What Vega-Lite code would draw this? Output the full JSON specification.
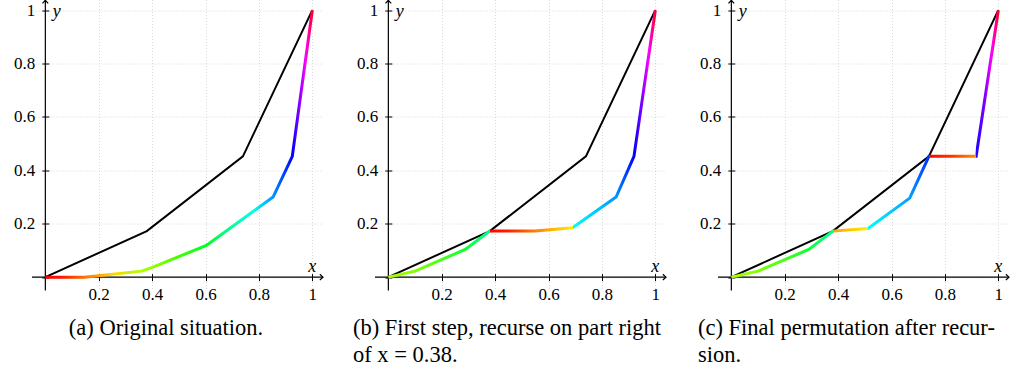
{
  "$schema": "https://vega.github.io/schema/vega-lite/v6.json",
  "background": "white",
  "padding": {"left": 13, "top": -2.5, "right": 0, "bottom": 0},
  "bounds": "flush",
  "spacing": 52,
  "config": {"view": {"stroke": null}, "font": "Liberation Serif"},
  "datasets": {
    "curve": [{"x": 0, "y": 0}, {"x": 0.38, "y": 0.1725}, {"x": 0.74, "y": 0.4525}, {"x": 1, "y": 1}],
    "ra": [{"x": 0, "y": 0}, {"x": 0.147, "y": 0}, {"x": 0.36, "y": 0.0225}, {"x": 0.403, "y": 0.0375}, {"x": 0.603, "y": 0.119}, {"x": 0.853, "y": 0.3}, {"x": 0.925, "y": 0.4525}, {"x": 1, "y": 1}],
    "rb": [{"x": 0, "y": 0}, {"x": 0.1, "y": 0.0225}, {"x": 0.288, "y": 0.104}, {"x": 0.38, "y": 0.1725}, {"x": 0.55, "y": 0.1725}, {"x": 0.69, "y": 0.185}, {"x": 0.853, "y": 0.3}, {"x": 0.92, "y": 0.4525}, {"x": 1, "y": 1}],
    "rc": [{"x": 0, "y": 0}, {"x": 0.1, "y": 0.0225}, {"x": 0.29, "y": 0.104}, {"x": 0.38, "y": 0.1725}, {"x": 0.512, "y": 0.1825}, {"x": 0.668, "y": 0.296}, {"x": 0.74, "y": 0.4525}, {"x": 0.917, "y": 0.4525}, {"x": 1, "y": 1}],
    "one": [{"k": 1}]
  },
  "hconcat": [
    {
      "width": 291, "height": 291,
      "title": {"text": "(a) Original situation.", "orient": "bottom", "anchor": "middle", "frame": "group", "dx": -11.5, "offset": 14, "fontSize": 22.5, "font": "Liberation Serif", "fontWeight": "normal", "color": "black", "lineHeight": 27},
      "layer": [
        {"data": {"name": "curve"}, "mark": {"type": "line", "color": "black", "strokeWidth": 2},
         "encoding": {
           "x": {"field": "x", "type": "quantitative", "scale": {"domain": [-0.05, 1.04], "nice": false, "zero": false},
                 "axis": {"title": null, "orient": "bottom", "offset": -16.85, "domain": false, "values": [0, 0.1, 0.2, 0.3, 0.4, 0.5, 0.6, 0.7, 0.8, 0.9, 1], "tickSize": 7, "tickColor": "black", "tickWidth": 1, "grid": true, "gridColor": "#cfcfcf", "gridDash": [1, 2], "gridWidth": 0.8, "labelExpr": "datum.value > 0.15 && round(datum.value*10) % 2 == 0 ? format(datum.value, '.1~f') : ''", "labelFont": "Liberation Serif", "labelFontSize": 17, "labelColor": "black", "labelPadding": 6, "labelFlush": false, "labelOverlap": false, "labelBound": false}},
           "y": {"field": "y", "type": "quantitative", "scale": {"domain": [-0.05, 1.04], "nice": false, "zero": false},
                 "axis": {"title": null, "orient": "left", "offset": -16.85, "domain": false, "values": [0, 0.1, 0.2, 0.3, 0.4, 0.5, 0.6, 0.7, 0.8, 0.9, 1], "tickSize": 7, "tickColor": "black", "tickWidth": 1, "grid": true, "gridColor": "#cfcfcf", "gridDash": [1, 2], "gridWidth": 0.8, "labelExpr": "datum.value > 0.15 && round(datum.value*10) % 2 == 0 ? format(datum.value, '.1~f') : ''", "labelFont": "Liberation Serif", "labelFontSize": 17, "labelColor": "black", "labelPadding": 7, "labelFlush": false, "labelOverlap": false, "labelBound": false}}
         }},
        {"data": {"name": "one"}, "mark": {"type": "rule", "color": "black", "strokeWidth": 1.2}, "encoding": {"y": {"datum": 0}}},
        {"data": {"name": "one"}, "mark": {"type": "rule", "color": "black", "strokeWidth": 1.2}, "encoding": {"x": {"datum": 0}}},
        {"data": {"name": "one"}, "mark": {"type": "point", "shape": "M-1,-0.9L0,0L-1,0.9", "filled": false, "stroke": "black", "strokeWidth": 1.2, "size": 40, "opacity": 1}, "encoding": {"x": {"datum": 1.04}, "y": {"datum": 0}}},
        {"data": {"name": "one"}, "mark": {"type": "point", "shape": "M-0.9,1L0,0L0.9,1", "filled": false, "stroke": "black", "strokeWidth": 1.2, "size": 40, "opacity": 1}, "encoding": {"x": {"datum": 0}, "y": {"datum": 1.037}}},
        {"data": {"name": "one"}, "mark": {"type": "text", "text": "x", "font": "Liberation Serif", "fontStyle": "italic", "fontSize": 18, "align": "center", "baseline": "alphabetic", "color": "black"}, "encoding": {"x": {"datum": 1.0}, "y": {"datum": 0.019}}},
        {"data": {"name": "one"}, "mark": {"type": "text", "text": "y", "font": "Liberation Serif", "fontStyle": "italic", "fontSize": 18, "align": "center", "baseline": "top", "color": "black"}, "encoding": {"x": {"datum": 0.043}, "y": {"datum": 1.026}}},
        {"data": {"name": "ra"}, "mark": {"type": "line", "strokeWidth": 3, "color": {"gradient": "linear", "x1": 0, "y1": 0, "x2": 1, "y2": 0, "stops": [
          {"offset": 0, "color": "#ff0000"}, {"offset": 0.06, "color": "#ff1500"}, {"offset": 0.147, "color": "#ff7000"}, {"offset": 0.25, "color": "#ffd500"}, {"offset": 0.36, "color": "#b0ff00"}, {"offset": 0.403, "color": "#90ff00"}, {"offset": 0.5, "color": "#40ff00"}, {"offset": 0.603, "color": "#00ff20"}, {"offset": 0.7, "color": "#00ffa0"}, {"offset": 0.78, "color": "#00ffee"}, {"offset": 0.853, "color": "#0095ff"}, {"offset": 0.925, "color": "#0000ff"}, {"offset": 0.95, "color": "#8000ff"}, {"offset": 0.975, "color": "#ff00ff"}, {"offset": 1, "color": "#ff0030"}]}},
         "encoding": {"x": {"field": "x", "type": "quantitative"}, "y": {"field": "y", "type": "quantitative"}}}
      ]
    },
    {
      "width": 291, "height": 291,
      "title": {"text": ["(b) First step, recurse on part right", "of x = 0.38."], "orient": "bottom", "anchor": "start", "frame": "group", "dx": -22, "offset": 14, "fontSize": 22.5, "font": "Liberation Serif", "fontWeight": "normal", "color": "black", "lineHeight": 27},
      "layer": [
        {"data": {"name": "curve"}, "mark": {"type": "line", "color": "black", "strokeWidth": 2},
         "encoding": {
           "x": {"field": "x", "type": "quantitative", "scale": {"domain": [-0.05, 1.04], "nice": false, "zero": false},
                 "axis": {"title": null, "orient": "bottom", "offset": -16.85, "domain": false, "values": [0, 0.1, 0.2, 0.3, 0.4, 0.5, 0.6, 0.7, 0.8, 0.9, 1], "tickSize": 7, "tickColor": "black", "tickWidth": 1, "grid": true, "gridColor": "#cfcfcf", "gridDash": [1, 2], "gridWidth": 0.8, "labelExpr": "datum.value > 0.15 && round(datum.value*10) % 2 == 0 ? format(datum.value, '.1~f') : ''", "labelFont": "Liberation Serif", "labelFontSize": 17, "labelColor": "black", "labelPadding": 6, "labelFlush": false, "labelOverlap": false, "labelBound": false}},
           "y": {"field": "y", "type": "quantitative", "scale": {"domain": [-0.05, 1.04], "nice": false, "zero": false},
                 "axis": {"title": null, "orient": "left", "offset": -16.85, "domain": false, "values": [0, 0.1, 0.2, 0.3, 0.4, 0.5, 0.6, 0.7, 0.8, 0.9, 1], "tickSize": 7, "tickColor": "black", "tickWidth": 1, "grid": true, "gridColor": "#cfcfcf", "gridDash": [1, 2], "gridWidth": 0.8, "labelExpr": "datum.value > 0.15 && round(datum.value*10) % 2 == 0 ? format(datum.value, '.1~f') : ''", "labelFont": "Liberation Serif", "labelFontSize": 17, "labelColor": "black", "labelPadding": 7, "labelFlush": false, "labelOverlap": false, "labelBound": false}}
         }},
        {"data": {"name": "one"}, "mark": {"type": "rule", "color": "black", "strokeWidth": 1.2}, "encoding": {"y": {"datum": 0}}},
        {"data": {"name": "one"}, "mark": {"type": "rule", "color": "black", "strokeWidth": 1.2}, "encoding": {"x": {"datum": 0}}},
        {"data": {"name": "one"}, "mark": {"type": "point", "shape": "M-1,-0.9L0,0L-1,0.9", "filled": false, "stroke": "black", "strokeWidth": 1.2, "size": 40, "opacity": 1}, "encoding": {"x": {"datum": 1.04}, "y": {"datum": 0}}},
        {"data": {"name": "one"}, "mark": {"type": "point", "shape": "M-0.9,1L0,0L0.9,1", "filled": false, "stroke": "black", "strokeWidth": 1.2, "size": 40, "opacity": 1}, "encoding": {"x": {"datum": 0}, "y": {"datum": 1.037}}},
        {"data": {"name": "one"}, "mark": {"type": "text", "text": "x", "font": "Liberation Serif", "fontStyle": "italic", "fontSize": 18, "align": "center", "baseline": "alphabetic", "color": "black"}, "encoding": {"x": {"datum": 1.0}, "y": {"datum": 0.019}}},
        {"data": {"name": "one"}, "mark": {"type": "text", "text": "y", "font": "Liberation Serif", "fontStyle": "italic", "fontSize": 18, "align": "center", "baseline": "top", "color": "black"}, "encoding": {"x": {"datum": 0.043}, "y": {"datum": 1.026}}},
        {"data": {"name": "rb"}, "mark": {"type": "line", "strokeWidth": 3, "color": {"gradient": "linear", "x1": 0, "y1": 0, "x2": 1, "y2": 0, "stops": [
          {"offset": 0, "color": "#b0ff00"}, {"offset": 0.1, "color": "#80ff00"}, {"offset": 0.288, "color": "#10ff30"}, {"offset": 0.38, "color": "#00ff90"}, {"offset": 0.38, "color": "#ff0000"}, {"offset": 0.45, "color": "#ff2000"}, {"offset": 0.55, "color": "#ff8000"}, {"offset": 0.69, "color": "#ffee00"}, {"offset": 0.69, "color": "#00ffff"}, {"offset": 0.853, "color": "#0095ff"}, {"offset": 0.92, "color": "#0000ff"}, {"offset": 0.95, "color": "#8000ff"}, {"offset": 0.975, "color": "#ff00ff"}, {"offset": 1, "color": "#ff0030"}]}},
         "encoding": {"x": {"field": "x", "type": "quantitative"}, "y": {"field": "y", "type": "quantitative"}}}
      ]
    },
    {
      "width": 291, "height": 291,
      "title": {"text": ["(c) Final permutation after recur-", "sion."], "orient": "bottom", "anchor": "start", "frame": "group", "dx": -20, "offset": 14, "fontSize": 22.5, "font": "Liberation Serif", "fontWeight": "normal", "color": "black", "lineHeight": 27},
      "layer": [
        {"data": {"name": "curve"}, "mark": {"type": "line", "color": "black", "strokeWidth": 2},
         "encoding": {
           "x": {"field": "x", "type": "quantitative", "scale": {"domain": [-0.05, 1.04], "nice": false, "zero": false},
                 "axis": {"title": null, "orient": "bottom", "offset": -16.85, "domain": false, "values": [0, 0.1, 0.2, 0.3, 0.4, 0.5, 0.6, 0.7, 0.8, 0.9, 1], "tickSize": 7, "tickColor": "black", "tickWidth": 1, "grid": true, "gridColor": "#cfcfcf", "gridDash": [1, 2], "gridWidth": 0.8, "labelExpr": "datum.value > 0.15 && round(datum.value*10) % 2 == 0 ? format(datum.value, '.1~f') : ''", "labelFont": "Liberation Serif", "labelFontSize": 17, "labelColor": "black", "labelPadding": 6, "labelFlush": false, "labelOverlap": false, "labelBound": false}},
           "y": {"field": "y", "type": "quantitative", "scale": {"domain": [-0.05, 1.04], "nice": false, "zero": false},
                 "axis": {"title": null, "orient": "left", "offset": -16.85, "domain": false, "values": [0, 0.1, 0.2, 0.3, 0.4, 0.5, 0.6, 0.7, 0.8, 0.9, 1], "tickSize": 7, "tickColor": "black", "tickWidth": 1, "grid": true, "gridColor": "#cfcfcf", "gridDash": [1, 2], "gridWidth": 0.8, "labelExpr": "datum.value > 0.15 && round(datum.value*10) % 2 == 0 ? format(datum.value, '.1~f') : ''", "labelFont": "Liberation Serif", "labelFontSize": 17, "labelColor": "black", "labelPadding": 7, "labelFlush": false, "labelOverlap": false, "labelBound": false}}
         }},
        {"data": {"name": "one"}, "mark": {"type": "rule", "color": "black", "strokeWidth": 1.2}, "encoding": {"y": {"datum": 0}}},
        {"data": {"name": "one"}, "mark": {"type": "rule", "color": "black", "strokeWidth": 1.2}, "encoding": {"x": {"datum": 0}}},
        {"data": {"name": "one"}, "mark": {"type": "point", "shape": "M-1,-0.9L0,0L-1,0.9", "filled": false, "stroke": "black", "strokeWidth": 1.2, "size": 40, "opacity": 1}, "encoding": {"x": {"datum": 1.04}, "y": {"datum": 0}}},
        {"data": {"name": "one"}, "mark": {"type": "point", "shape": "M-0.9,1L0,0L0.9,1", "filled": false, "stroke": "black", "strokeWidth": 1.2, "size": 40, "opacity": 1}, "encoding": {"x": {"datum": 0}, "y": {"datum": 1.037}}},
        {"data": {"name": "one"}, "mark": {"type": "text", "text": "x", "font": "Liberation Serif", "fontStyle": "italic", "fontSize": 18, "align": "center", "baseline": "alphabetic", "color": "black"}, "encoding": {"x": {"datum": 1.0}, "y": {"datum": 0.019}}},
        {"data": {"name": "one"}, "mark": {"type": "text", "text": "y", "font": "Liberation Serif", "fontStyle": "italic", "fontSize": 18, "align": "center", "baseline": "top", "color": "black"}, "encoding": {"x": {"datum": 0.043}, "y": {"datum": 1.026}}},
        {"data": {"name": "rc"}, "mark": {"type": "line", "strokeWidth": 3, "color": {"gradient": "linear", "x1": 0, "y1": 0, "x2": 1, "y2": 0, "stops": [
          {"offset": 0, "color": "#b0ff00"}, {"offset": 0.1, "color": "#80ff00"}, {"offset": 0.29, "color": "#10ff30"}, {"offset": 0.38, "color": "#00ff90"}, {"offset": 0.38, "color": "#ffa000"}, {"offset": 0.512, "color": "#ffee00"}, {"offset": 0.512, "color": "#00ffff"}, {"offset": 0.668, "color": "#00a0ff"}, {"offset": 0.74, "color": "#0030ff"}, {"offset": 0.74, "color": "#ff0000"}, {"offset": 0.82, "color": "#ff3000"}, {"offset": 0.917, "color": "#ff9000"}, {"offset": 0.917, "color": "#2000ff"}, {"offset": 0.95, "color": "#8000ff"}, {"offset": 0.975, "color": "#ff00ff"}, {"offset": 1, "color": "#ff0030"}]}},
         "encoding": {"x": {"field": "x", "type": "quantitative"}, "y": {"field": "y", "type": "quantitative"}}}
      ]
    }
  ]
}
